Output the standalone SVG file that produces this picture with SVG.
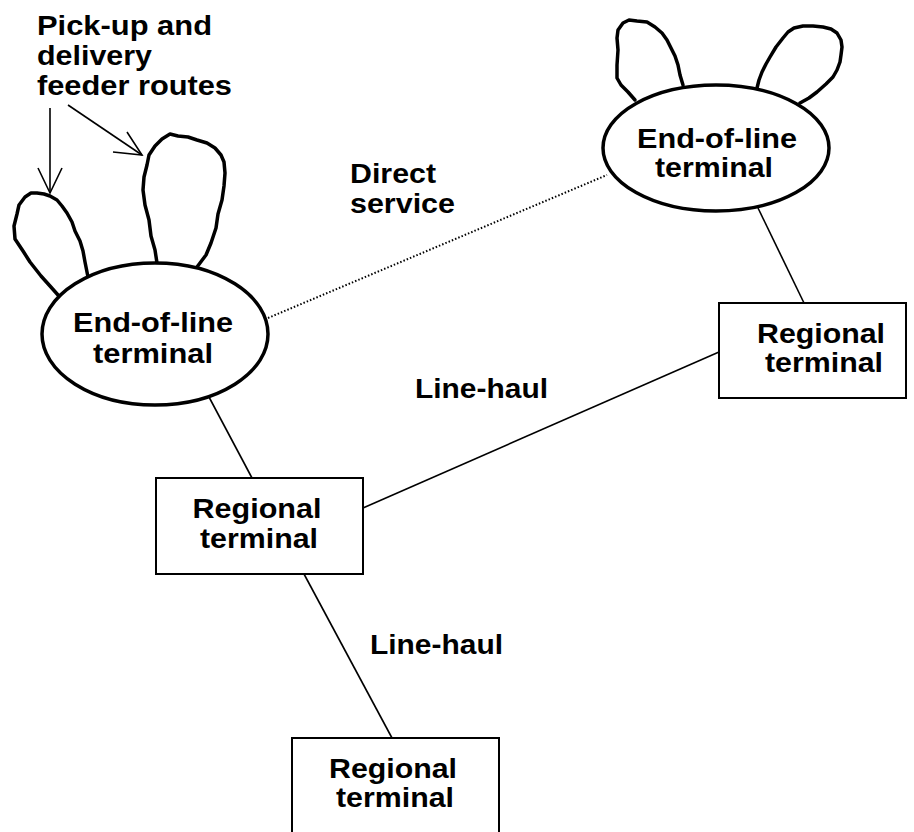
<svg xmlns="http://www.w3.org/2000/svg" width="914" height="832" viewBox="0 0 914 832">
<style>
.t{font-family:"Liberation Sans",Arial,sans-serif;font-weight:bold;font-size:28px;fill:#000}
.c{text-anchor:middle}
.ell{fill:#fff;stroke:#000;stroke-width:3.5}
.box{fill:#fff;stroke:#000;stroke-width:2}
.ln{stroke:#000;stroke-width:1.6;fill:none}
.loop{fill:none;stroke:#000;stroke-width:3.5;stroke-linejoin:round;stroke-linecap:round}
.dot{stroke:#000;stroke-width:2;stroke-dasharray:1.5 2;fill:none}
</style>
<rect width="914" height="832" fill="#fff"/>
<g id="connectors">
<line class="ln" x1="209" y1="397" x2="252" y2="478"/>
<line class="ln" x1="363" y1="508" x2="719" y2="352"/>
<line class="ln" x1="304" y1="574" x2="392" y2="738"/>
<line class="ln" x1="758" y1="208" x2="804" y2="303"/>
<line class="dot" x1="268" y1="318" x2="607" y2="175"/>
<line class="ln" x1="50" y1="108" x2="50" y2="193"/>
<polyline class="ln" points="38,168 50,193 62,168"/>
<line class="ln" x1="68" y1="105" x2="142" y2="155"/>
<polyline class="ln" points="127,132 142,155 113,152"/>
</g>
<g id="loops">
<path class="loop" d="M58,295 L50,286 L41,276 L30,262 L23,251 L15,239 L14,226 L17,214 L19,205 L25,197 L31,193 L37,193 L44,194 L50,196 L57,200 L62,206 L67,213 L72,222 L75,231 L80,241 L83,251 L85,262 L88,277"/>
<path class="loop" d="M157,263 L155,250 L151,236 L149,220 L145,205 L143,190 L144,177 L147,165 L149,155 L155,146 L162,139 L170,134 L178,136 L188,137 L197,140 L207,143 L215,148 L221,155 L224,162 L225,173 L224,186 L222,200 L218,214 L216,228 L211,243 L206,255 L197,267"/>
<path class="loop" d="M635,100 L628,92 L621,85 L617,78 L617,65 L618,50 L617,38 L618,30 L623,23 L629,20 L637,21 L647,22 L655,27 L662,33 L667,40 L671,48 L675,56 L678,65 L680,75 L683,85"/>
<path class="loop" d="M757,88 L759,80 L762,72 L766,64 L770,57 L776,47 L783,38 L788,32 L794,28 L803,26 L813,26 L823,27 L831,29 L837,33 L841,40 L842,47 L841,55 L840,62 L837,70 L833,77 L826,84 L817,92 L809,98 L800,103"/>
</g>
<g id="eol-left">
<ellipse class="ell" cx="155" cy="334" rx="113" ry="71"/>
<text class="t c" x="153" y="332" textLength="160" lengthAdjust="spacingAndGlyphs">End-of-line</text>
<text class="t c" x="153" y="363" textLength="120" lengthAdjust="spacingAndGlyphs">terminal</text>
</g>
<g id="eol-right">
<ellipse class="ell" cx="716" cy="148" rx="113" ry="63"/>
<text class="t c" x="717" y="148" textLength="160" lengthAdjust="spacingAndGlyphs">End-of-line</text>
<text class="t c" x="714" y="177" textLength="118" lengthAdjust="spacingAndGlyphs">terminal</text>
</g>
<g id="regional-right">
<rect class="box" x="719" y="303" width="187" height="95"/>
<text class="t c" x="821" y="343" textLength="128" lengthAdjust="spacingAndGlyphs">Regional</text>
<text class="t c" x="824" y="372" textLength="118" lengthAdjust="spacingAndGlyphs">terminal</text>
</g>
<g id="regional-mid">
<rect class="box" x="156" y="478" width="207" height="96"/>
<text class="t c" x="257" y="518" textLength="129" lengthAdjust="spacingAndGlyphs">Regional</text>
<text class="t c" x="259" y="548" textLength="118" lengthAdjust="spacingAndGlyphs">terminal</text>
</g>
<g id="regional-bottom">
<rect class="box" x="292" y="738" width="207" height="100"/>
<text class="t c" x="393" y="778" textLength="128" lengthAdjust="spacingAndGlyphs">Regional</text>
<text class="t c" x="395" y="807" textLength="118" lengthAdjust="spacingAndGlyphs">terminal</text>
</g>
<g id="labels">
<text class="t" x="37" y="35" textLength="175" lengthAdjust="spacingAndGlyphs">Pick-up and</text>
<text class="t" x="37" y="65" textLength="115" lengthAdjust="spacingAndGlyphs">delivery</text>
<text class="t" x="37" y="95" textLength="195" lengthAdjust="spacingAndGlyphs">feeder routes</text>
<text class="t" x="350" y="183" textLength="86" lengthAdjust="spacingAndGlyphs">Direct</text>
<text class="t" x="350" y="213" textLength="105" lengthAdjust="spacingAndGlyphs">service</text>
<text class="t" x="415" y="398" textLength="133" lengthAdjust="spacingAndGlyphs">Line-haul</text>
<text class="t" x="370" y="654" textLength="133" lengthAdjust="spacingAndGlyphs">Line-haul</text>
</g>
</svg>
